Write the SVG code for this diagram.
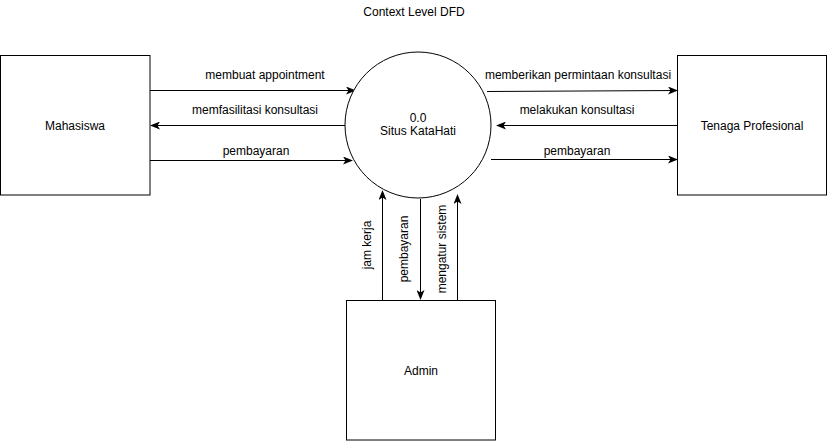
<svg xmlns="http://www.w3.org/2000/svg" width="828" height="442" viewBox="0 0 828 442">
<style>
.box{fill:#fff;stroke:#000;stroke-width:1}
.t{font-family:"Liberation Sans",Arial,sans-serif;font-size:12px;fill:#000;text-anchor:middle}
.c{stroke:#000;stroke-width:1;fill:none;marker-end:url(#ah)}
</style>
<defs>
<marker id="ah" viewBox="0 0 10 8" refX="9" refY="4" markerWidth="10" markerHeight="8" markerUnits="userSpaceOnUse" orient="auto">
<path d="M0,0 L10,4 L0,8 L2.5,4 z" fill="#000"/>
</marker>
</defs>
<rect width="828" height="442" fill="#fff"/>
<text class="t" x="414" y="16">Context Level DFD</text>
<g id="connectors">
<line class="c" x1="150" y1="90.5" x2="355" y2="90.5"/>
<line class="c" x1="346" y1="125.5" x2="151" y2="125.5"/>
<line class="c" x1="150" y1="160.5" x2="352" y2="160.5"/>
<line class="c" x1="487" y1="91.5" x2="677" y2="90.5"/>
<line class="c" x1="677" y1="125.5" x2="497" y2="125.5"/>
<line class="c" x1="491" y1="159.5" x2="677" y2="159.5"/>
<line class="c" x1="382.5" y1="300" x2="382.5" y2="191"/>
<line class="c" x1="420.5" y1="199" x2="420.5" y2="299"/>
<line class="c" x1="457.5" y1="300" x2="457.5" y2="195"/>
<text class="t" x="265" y="79">membuat appointment</text>
<text class="t" x="255" y="114">memfasilitasi konsultasi</text>
<text class="t" x="256" y="155">pembayaran</text>
<text class="t" x="578" y="79">memberikan permintaan konsultasi</text>
<text class="t" x="577" y="114">melakukan konsultasi</text>
<text class="t" x="577" y="155">pembayaran</text>
<text class="t" transform="translate(371,245) rotate(-90)">jam kerja</text>
<text class="t" transform="translate(408,249) rotate(-90)">pembayaran</text>
<text class="t" transform="translate(446,249) rotate(-90)">mengatur sistem</text>
</g>
<g id="mahasiswa">
<rect class="box" x="0.5" y="55.5" width="149.5" height="139.5"/>
<text class="t" x="75" y="130">Mahasiswa</text>
</g>
<g id="tenaga">
<rect class="box" x="677.5" y="55.5" width="149" height="139.5"/>
<text class="t" x="752" y="130">Tenaga Profesional</text>
</g>
<g id="process">
<circle class="box" cx="418" cy="125" r="73"/>
<text class="t" x="418" y="122">0.0</text>
<text class="t" x="418" y="135">Situs KataHati</text>
</g>
<g id="admin">
<rect class="box" x="346.5" y="300.5" width="149" height="139.5"/>
<text class="t" x="421" y="375">Admin</text>
</g>
</svg>
